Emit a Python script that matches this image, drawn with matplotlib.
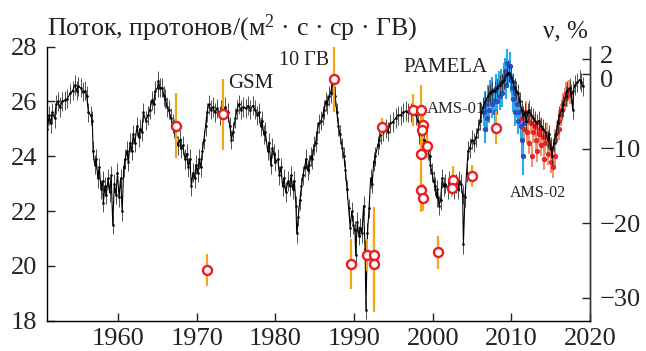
import numpy as np
import matplotlib.pyplot as plt
from matplotlib.transforms import ScaledTranslation

plt.rcParams['font.family'] = ['Liberation Serif', 'DejaVu Serif']
plt.rcParams['mathtext.fontset'] = 'custom'
plt.rcParams['mathtext.rm'] = 'Liberation Serif'
plt.rcParams['mathtext.it'] = 'Liberation Serif:italic'

# GSM reconstruction, 10 GV proton flux
gsm_year = [1951.0, 1951.2, 1951.4, 1951.6, 1951.9, 1952.1, 1952.3, 1952.6, 1952.9, 1953.2,
            1953.5, 1953.9, 1954.2, 1954.5, 1954.7, 1954.9, 1955.2, 1955.5, 1955.8, 1956.0,
            1956.2, 1956.5, 1956.7, 1956.8, 1957.0, 1957.2, 1957.4, 1957.6, 1957.8, 1958.0,
            1958.1, 1958.3, 1958.5, 1958.7, 1958.9, 1959.1, 1959.3, 1959.5, 1959.7, 1959.9,
            1960.1, 1960.3, 1960.5, 1960.7, 1960.9, 1961.1, 1961.3, 1961.5, 1961.7, 1961.9,
            1962.1, 1962.4, 1962.6, 1962.8, 1963.0, 1963.2, 1963.5, 1963.8, 1964.0, 1964.3,
            1964.5, 1964.7, 1965.0, 1965.1, 1965.3, 1965.6, 1965.8, 1966.0, 1966.2, 1966.4,
            1966.7, 1966.9, 1967.1, 1967.3, 1967.6, 1967.8, 1968.0, 1968.2, 1968.5, 1968.7,
            1968.9, 1969.1, 1969.3, 1969.5, 1969.7, 1969.9, 1970.1, 1970.3, 1970.5, 1970.7,
            1970.9, 1971.1, 1971.3, 1971.5, 1971.8, 1972.0, 1972.3, 1972.6, 1972.9, 1973.1,
            1973.3, 1973.6, 1973.9, 1974.2, 1974.4, 1974.6, 1974.9, 1975.1, 1975.3, 1975.6,
            1975.9, 1976.2, 1976.5, 1976.8, 1977.1, 1977.4, 1977.7, 1977.9, 1978.1, 1978.3,
            1978.5, 1978.7, 1979.0, 1979.2, 1979.4, 1979.6, 1979.8, 1980.0, 1980.3, 1980.5,
            1980.7, 1980.9, 1981.1, 1981.3, 1981.6, 1981.8, 1982.0, 1982.2, 1982.4, 1982.6,
            1982.7, 1982.9, 1983.1, 1983.3, 1983.5, 1983.7, 1983.9, 1984.1, 1984.3, 1984.5,
            1984.7, 1984.9, 1985.1, 1985.3, 1985.5, 1985.8, 1986.0, 1986.2, 1986.4, 1986.6,
            1986.8, 1987.0, 1987.2, 1987.4, 1987.6, 1987.8, 1988.0, 1988.2, 1988.5, 1988.7,
            1988.9, 1989.1, 1989.3, 1989.5, 1989.7, 1989.9, 1990.1, 1990.2, 1990.4, 1990.6,
            1990.8, 1991.0, 1991.2, 1991.4, 1991.5, 1991.7, 1991.9, 1992.1, 1992.3, 1992.5,
            1992.7, 1993.0, 1993.2, 1993.4, 1993.7, 1994.0, 1994.3, 1994.6, 1994.9, 1995.3,
            1995.6, 1995.9, 1996.2, 1996.6, 1996.9, 1997.2, 1997.5, 1997.9, 1998.1, 1998.3,
            1998.5, 1998.7, 1998.9, 1999.1, 1999.4, 1999.6, 1999.7, 1999.9, 2000.1, 2000.3,
            2000.5, 2000.6, 2000.8, 2001.0, 2001.2, 2001.4, 2001.6, 2001.9, 2002.1, 2002.3,
            2002.5, 2002.7, 2002.9, 2003.2, 2003.4, 2003.6, 2003.8, 2003.9, 2004.1, 2004.3,
            2004.5, 2004.7, 2005.0, 2005.3, 2005.5, 2005.8, 2006.0, 2006.2, 2006.4, 2006.7,
            2007.0, 2007.3, 2007.6, 2007.9, 2008.2, 2008.5, 2008.8, 2009.1, 2009.4, 2009.7,
            2010.0, 2010.2, 2010.4, 2010.6, 2010.9, 2011.1, 2011.3, 2011.5, 2011.7, 2011.9,
            2012.1, 2012.3, 2012.5, 2012.8, 2013.0, 2013.2, 2013.5, 2013.8, 2014.0, 2014.3,
            2014.6, 2014.8, 2015.0, 2015.2, 2015.4, 2015.7, 2015.9, 2016.1, 2016.4, 2016.6,
            2016.9, 2017.1, 2017.4, 2017.6, 2017.8, 2017.9, 2018.1, 2018.4, 2018.7, 2018.9,
            2019.1]
gsm_flux = [25.0, 25.5, 25.2, 25.6, 25.4, 25.9, 26.0, 25.8, 26.0, 26.05,
            26.1, 26.3, 26.4, 26.6, 26.4, 26.55, 26.5, 26.35, 26.4, 26.2,
            25.6, 25.5, 25.3, 24.2, 23.7, 23.9, 23.2, 23.6, 22.8, 23.1,
            22.3, 22.9, 22.6, 23.2, 22.7, 23.3, 21.5, 23.0, 22.6, 23.4,
            22.5, 23.2, 22.0, 23.6, 23.9, 24.2, 23.8, 24.5, 24.2, 24.8,
            24.5, 25.1, 24.7, 25.0, 24.9, 25.6, 25.3, 25.5, 25.7, 26.05,
            25.9, 26.4, 26.5, 26.75, 26.5, 26.5, 26.2, 26.1, 25.8, 25.7,
            25.4, 25.2, 25.0, 24.7, 24.4, 24.6, 24.3, 24.4, 23.9, 24.1,
            23.6, 23.9, 22.9, 23.4, 23.2, 23.7, 23.4, 23.9, 23.6, 24.2,
            24.6, 25.1, 25.6, 25.9, 25.7, 25.8, 25.6, 25.75, 25.5, 25.7,
            25.45, 25.8, 25.6, 25.1, 24.6, 24.9, 25.4, 25.7, 25.9, 25.7,
            25.8, 25.75, 25.85, 25.7, 25.85, 25.7, 25.5, 25.6, 25.1, 25.3,
            24.8, 24.9, 24.2, 24.5, 23.7, 24.3, 24.1, 23.8, 23.9, 23.3,
            23.6, 22.9, 23.2, 22.7, 23.1, 22.9, 23.3, 22.8, 23.1, 22.2,
            21.2, 21.8, 22.4, 22.9, 23.3, 23.6, 23.9, 23.5, 23.7, 24.0,
            23.9, 24.4, 24.5, 24.9, 25.2, 25.3, 25.5, 25.7, 26.0, 25.9,
            26.2, 26.3, 26.6, 26.8, 26.2, 25.6, 25.1, 24.8, 24.3, 24.0,
            23.5, 22.8, 22.1, 21.4, 22.0, 21.5, 21.3, 20.4, 21.6, 21.1,
            21.4, 21.2, 22.2, 20.6, 18.4, 21.2, 22.1, 23.2, 23.0, 23.8,
            24.0, 24.4, 24.6, 24.8, 24.9, 25.0, 24.9, 25.2, 25.25, 25.4,
            25.5, 25.5, 25.6, 25.65, 25.6, 25.6, 25.55, 25.5, 25.3, 24.8,
            24.6, 24.9, 24.5, 24.6, 24.2, 24.0, 23.7, 23.4, 23.1, 22.9,
            22.5, 22.8, 22.2, 22.4, 23.2, 22.9, 23.0, 22.8, 23.1, 22.9,
            23.1, 22.8, 23.0, 22.8, 23.1, 23.0, 22.6, 20.8, 22.5, 23.4,
            24.2, 24.3, 24.6, 24.5, 24.7, 25.0, 25.3, 25.6, 25.8, 26.0,
            26.2, 26.3, 26.4, 26.4, 26.5, 26.6, 26.7, 26.8, 27.0, 27.05,
            26.9, 26.7, 26.5, 26.4, 26.3, 26.0, 25.7, 25.5, 25.6, 25.3,
            25.6, 25.7, 25.5, 25.4, 25.3, 25.2, 25.3, 25.1, 25.0, 24.9,
            24.6, 24.8, 24.3, 24.0, 24.5, 24.8, 25.2, 25.5, 25.7, 25.9,
            26.2, 26.4, 26.5, 26.3, 25.7, 26.4, 26.6, 26.7, 26.8, 26.7,
            26.55]

# PAMELA
pam_year = [2006.5, 2006.6, 2006.7, 2006.9, 2007.0, 2007.2, 2007.3, 2007.5, 2007.6, 2007.8,
            2007.9, 2008.1, 2008.2, 2008.4, 2008.5, 2008.7, 2008.8, 2009.0, 2009.2, 2009.3,
            2009.5, 2009.6, 2009.8, 2009.9, 2010.1, 2010.2, 2010.4, 2010.5, 2010.7, 2010.8,
            2011.0, 2011.2, 2011.4, 2011.5, 2011.6]
pam_flux = [25.6, 25.0, 25.9, 25.4, 26.1, 25.7, 26.3, 25.9, 26.4, 26.0,
            25.6, 26.5, 26.0, 26.6, 26.2, 26.7, 26.3, 26.9, 27.1, 26.6,
            27.4, 27.0, 27.3, 26.8, 26.5, 26.1, 26.3, 25.6, 25.9, 25.3,
            25.6, 25.1, 24.6, 24.0, 25.2]
pam_err = [0.5, 0.5, 0.5, 0.5, 0.5, 0.5, 0.5, 0.5, 0.5, 0.5,
           0.5, 0.5, 0.5, 0.5, 0.5, 0.5, 0.5, 0.5, 0.5, 0.5,
           0.5, 0.5, 0.5, 0.5, 0.5, 0.5, 0.5, 0.5, 0.5, 0.5,
           0.5, 0.5, 0.6, 0.7, 0.5]

# AMS-02
ams_year = [2011.4, 2011.6, 2011.8, 2012.0, 2012.1, 2012.3, 2012.5, 2012.6, 2012.8, 2013.0,
            2013.1, 2013.3, 2013.5, 2013.6, 2013.8, 2014.0, 2014.1, 2014.3, 2014.5, 2014.6,
            2014.8, 2015.0, 2015.1, 2015.3, 2015.5, 2015.6, 2015.8, 2016.0, 2016.1, 2016.3,
            2016.5, 2016.6, 2016.8, 2017.0, 2017.1, 2017.3, 2017.5]
ams_flux = [25.4, 25.0, 25.6, 24.9, 25.3, 24.5, 25.2, 24.0, 24.9, 25.1,
            24.6, 24.2, 24.8, 25.0, 24.4, 24.7, 23.9, 24.5, 24.8, 24.1,
            24.4, 23.8, 24.3, 23.6, 24.0, 24.6, 24.9, 25.3, 25.0, 25.5,
            25.7, 25.9, 26.1, 26.3, 26.2, 26.4, 26.3]
ams_err = [0.4, 0.4, 0.4, 0.4, 0.4, 0.4, 0.4, 0.4, 0.4, 0.4,
           0.4, 0.4, 0.4, 0.4, 0.4, 0.4, 0.4, 0.4, 0.4, 0.4,
           0.4, 0.4, 0.4, 0.4, 0.4, 0.4, 0.4, 0.4, 0.4, 0.4,
           0.4, 0.4, 0.4, 0.4, 0.4, 0.4, 0.4]

# single measurements (balloons, AMS-01 etc.)
pt_year = [1967.35, 1971.3, 1973.3, 1987.5, 1989.65, 1991.7, 1992.5, 1992.5, 1993.5, 1997.55,
           1998.5, 1998.7, 1998.6, 1998.5, 1999.3, 1998.5, 1998.7, 2000.7, 2002.6, 2002.4,
           2005.05, 2008.1]
pt_flux = [25.12, 19.85, 25.53, 26.82, 20.07, 20.4, 20.4, 20.07, 25.08, 25.69,
           25.7, 25.14, 24.96, 24.1, 24.39, 22.77, 22.49, 20.5, 23.14, 22.85,
           23.28, 25.05]
pt_err = [1.2, 0.6, 1.3, 1.2, 0.9, 0.6, 1.75, 1.75, 0.3, 0.6,
          0.9, 0.5, 0.5, 1.0, 0.45, 0.8, 0.5, 0.6, 0.5, 0.3,
          0.4, 0.6]

fig = plt.figure(figsize=(6.46, 3.51), dpi=100)
ax = fig.add_axes([0.0723, 0.0863, 0.8410, 0.7807])

ax.errorbar(gsm_year, gsm_flux, yerr=0.35, fmt='-', color='black', lw=0.8,
            ecolor='0.2', elinewidth=0.6, marker='.', ms=1.8, zorder=3)
ax.errorbar(pam_year, pam_flux, yerr=pam_err, fmt='o', color='#2b4fc4', ms=2.8,
            ecolor='#2aaae8', elinewidth=1.5, zorder=2)
ax.errorbar(ams_year, ams_flux, yerr=ams_err, fmt='o', color='#e8262a', ms=2.8,
            ecolor='#f4926e', elinewidth=1.5, zorder=2)
ax.errorbar(pt_year, pt_flux, yerr=pt_err, fmt='none', ecolor='#f5a41e',
            elinewidth=1.6, zorder=4)
ax.plot(pt_year, pt_flux, 'o', mfc='white', mec='#ec1c24', mew=1.7, ms=6.5, zorder=5)

ax.set_xlim(1950.9, 2020)
ax.set_ylim(18, 28)
ax.set_xticks([1960, 1970, 1980, 1990, 2000, 2010, 2020])
ax.set_yticks([18, 20, 22, 24, 26, 28])
ax.tick_params(direction='in', length=6, width=1, labelsize=19, pad=7, colors='#222222')
ax.tick_params(axis='x', pad=5)
ax.spines['top'].set_visible(False)
for s in ['left', 'bottom', 'right']:
    ax.spines[s].set_linewidth(1.0)
    ax.spines[s].set_color('#333333')

ax2 = ax.twinx()
ax2.set_ylim(-33.08, 3.66)
ax2.set_yticks([2, 0, -10, -20, -30])
ax2.tick_params(direction='in', length=6, width=1, labelsize=19, pad=7, colors='#222222')
ax2.spines['top'].set_visible(False)
ax2.spines['right'].set_linewidth(1.0)
ax2.spines['right'].set_color('#333333')

# pull the crowded "2" and "0" labels apart
for lbl in ax2.get_yticklabels():
    if lbl.get_text() == '2':
        lbl.set_transform(lbl.get_transform() + ScaledTranslation(0, 3.5 / 72, fig.dpi_scale_trans))
    elif lbl.get_text() == '0':
        lbl.set_transform(lbl.get_transform() + ScaledTranslation(0, -3 / 72, fig.dpi_scale_trans))

ax.text(1974.03, 26.48, 'GSM', fontsize=15, color='#222222')
ax.text(1980.5, 27.33, '10 ГВ', fontsize=14.5, color='#222222')
ax.text(1996.3, 27.09, 'PAMELA', fontsize=15, color='#222222')
ax.text(1999.3, 25.58, 'AMS-01', fontsize=12, color='#222222', zorder=6)
ax.text(2009.8, 22.53, 'AMS-02', fontsize=11.5, color='#222222')

fig.text(0.0727, 0.90, 'Поток, протонов/(м$^2$ · с · ср · ГВ)', fontsize=18.7,
         color='#222222', va='baseline')
fig.text(0.910, 0.894, 'ν, %', fontsize=18, color='#222222', va='baseline', ha='right')

fig.savefig('out.png', dpi=100)
